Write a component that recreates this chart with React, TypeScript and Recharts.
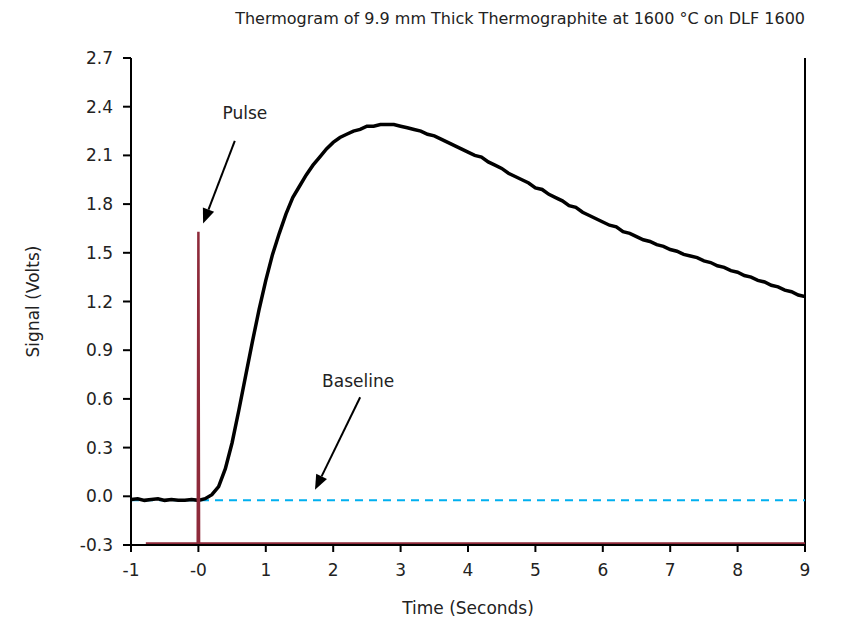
import React from "react"
import { LineChart, Line, XAxis, YAxis, ReferenceLine, ReferenceDot } from "recharts"

// time axis of the recorded signal (s)
const signalTime = [
  -1.0, -0.9, -0.8, -0.7, -0.6, -0.5, -0.4, -0.3, -0.2, -0.1,
  0.0, 0.1, 0.2, 0.3, 0.4, 0.5, 0.6, 0.7, 0.8, 0.9,
  1.0, 1.1, 1.2, 1.3, 1.4, 1.5, 1.6, 1.7, 1.8, 1.9,
  2.0, 2.1, 2.2, 2.3, 2.4, 2.5, 2.6, 2.7, 2.8, 2.9,
  3.0, 3.1, 3.2, 3.3, 3.4, 3.5, 3.6, 3.7, 3.8, 3.9,
  4.0, 4.1, 4.2, 4.3, 4.4, 4.5, 4.6, 4.7, 4.8, 4.9,
  5.0, 5.1, 5.2, 5.3, 5.4, 5.5, 5.6, 5.7, 5.8, 5.9,
  6.0, 6.1, 6.2, 6.3, 6.4, 6.5, 6.6, 6.7, 6.8, 6.9,
  7.0, 7.1, 7.2, 7.3, 7.4, 7.5, 7.6, 7.7, 7.8, 7.9,
  8.0, 8.1, 8.2, 8.3, 8.4, 8.5, 8.6, 8.7, 8.8, 8.9,
  9.0,
]

// detector signal (V)
const signalVolts = [
  -0.02, -0.015, -0.025, -0.02, -0.015, -0.025, -0.02, -0.025, -0.025, -0.02,
  -0.025, -0.015, 0.01, 0.06, 0.17, 0.33, 0.53, 0.74, 0.95, 1.15,
  1.33, 1.49, 1.62, 1.74, 1.84, 1.91, 1.98, 2.04, 2.09, 2.14,
  2.18, 2.21, 2.23, 2.25, 2.26, 2.28, 2.28, 2.29, 2.29, 2.29,
  2.28, 2.27, 2.26, 2.25, 2.23, 2.22, 2.20, 2.18, 2.16, 2.14,
  2.12, 2.10, 2.09, 2.06, 2.04, 2.02, 1.99, 1.97, 1.95, 1.93,
  1.90, 1.89, 1.86, 1.84, 1.82, 1.79, 1.78, 1.75, 1.73, 1.71,
  1.69, 1.67, 1.66, 1.63, 1.62, 1.60, 1.58, 1.57, 1.55, 1.54,
  1.52, 1.51, 1.49, 1.48, 1.47, 1.45, 1.44, 1.42, 1.41, 1.39,
  1.38, 1.36, 1.35, 1.33, 1.32, 1.30, 1.29, 1.27, 1.26, 1.24,
  1.23,
]

// laser pulse trace
const pulseTime = [-0.78, -0.01, 0, 0.01, 9]
const pulseVolts = [-0.29, -0.29, 1.63, -0.29, -0.29]

// baseline level
const baselineTime = [-1, 9]
const baselineVolts = [-0.025, -0.025]

const xTicks = [-1, 0, 1, 2, 3, 4, 5, 6, 7, 8, 9]
const yTicks = [-0.3, 0, 0.3, 0.6, 0.9, 1.2, 1.5, 1.8, 2.1, 2.4, 2.7]

const toPoints = (xs: number[], ys: number[]) => xs.map((x, i) => ({ x, y: ys[i] }))

const signalData = toPoints(signalTime, signalVolts)
const pulseData = toPoints(pulseTime, pulseVolts)
const baselineData = toPoints(baselineTime, baselineVolts)

const FONT = "'DejaVu Sans', sans-serif"
const TEXT = "#222"

const Arrow = (props: any) => {
  const { x1, y1, x2, y2 } = props
  const dx = x2 - x1
  const dy = y2 - y1
  const len = Math.sqrt(dx * dx + dy * dy)
  const ux = dx / len
  const uy = dy / len
  const head = 15
  const half = 6
  const bx = x2 - ux * head
  const by = y2 - uy * head
  const pts = `${x2},${y2} ${bx - uy * half},${by + ux * half} ${bx + uy * half},${by - ux * half}`
  return (
    <g>
      <line x1={x1} y1={y1} x2={bx} y2={by} stroke="#000" strokeWidth={2} />
      <polygon points={pts} fill="#000" />
    </g>
  )
}

export default function App() {
  return (
    <div style={{ position: "absolute", left: 0, top: 0, width: 851, height: 623, background: "#fff", fontFamily: FONT }}>
      <div style={{ position: "absolute", right: 46, top: 9, fontSize: 16, color: TEXT, whiteSpace: "nowrap" }}>
        Thermogram of 9.9 mm Thick Thermographite at 1600 °C on DLF 1600
      </div>
      <LineChart width={851} height={623} margin={{ top: 58, right: 46, left: 0, bottom: 0 }}>
        <XAxis
          type="number"
          dataKey="x"
          domain={[-1, 9]}
          ticks={xTicks}
          allowDataOverflow
          tickFormatter={(v: number) => (v === 0 ? "-0" : String(v))}
          height={78}
          stroke="#000"
          strokeWidth={2}
          tickSize={7}
          tickMargin={12}
          tick={{ fill: TEXT, fontSize: 17, fontFamily: FONT }}
          label={{ value: "Time (Seconds)", position: "insideBottom", offset: 9, fill: TEXT, fontSize: 17, fontFamily: FONT }}
        />
        <YAxis
          type="number"
          domain={[-0.3, 2.7]}
          ticks={yTicks}
          allowDataOverflow
          tickFormatter={(v: number) => v.toFixed(1)}
          width={131}
          stroke="#000"
          strokeWidth={2}
          tickSize={8}
          tickMargin={10}
          tick={{ fill: TEXT, fontSize: 17, fontFamily: FONT }}
          label={{ value: "Signal (Volts)", angle: -90, position: "center", dx: -33, fill: TEXT, fontSize: 17, fontFamily: FONT }}
        />
        <ReferenceLine x={9} stroke="#000" strokeWidth={2} />
        <Line data={baselineData} dataKey="y" stroke="#00B0F0" strokeWidth={2} strokeDasharray="8 6" dot={false} isAnimationActive={false} />
        <Line data={signalData} dataKey="y" stroke="#000" strokeWidth={3.5} dot={false} isAnimationActive={false} />
        <Line data={pulseData} dataKey="y" stroke="#8E2A3A" strokeWidth={2.5} dot={false} isAnimationActive={false} />
        <ReferenceLine segment={[{ x: 0.54, y: 2.19 }, { x: 0.07, y: 1.68 }]} shape={<Arrow />} ifOverflow="visible" />
        <ReferenceLine segment={[{ x: 2.4, y: 0.61 }, { x: 1.73, y: 0.04 }]} shape={<Arrow />} ifOverflow="visible" />
        <ReferenceDot x={0.69} y={2.36} r={0} fill="none" stroke="none" ifOverflow="visible"
          label={{ value: "Pulse", position: "center", fill: TEXT, fontSize: 17, fontFamily: FONT }} />
        <ReferenceDot x={2.37} y={0.71} r={0} fill="none" stroke="none" ifOverflow="visible"
          label={{ value: "Baseline", position: "center", fill: TEXT, fontSize: 17, fontFamily: FONT }} />
      </LineChart>
    </div>
  )
}
